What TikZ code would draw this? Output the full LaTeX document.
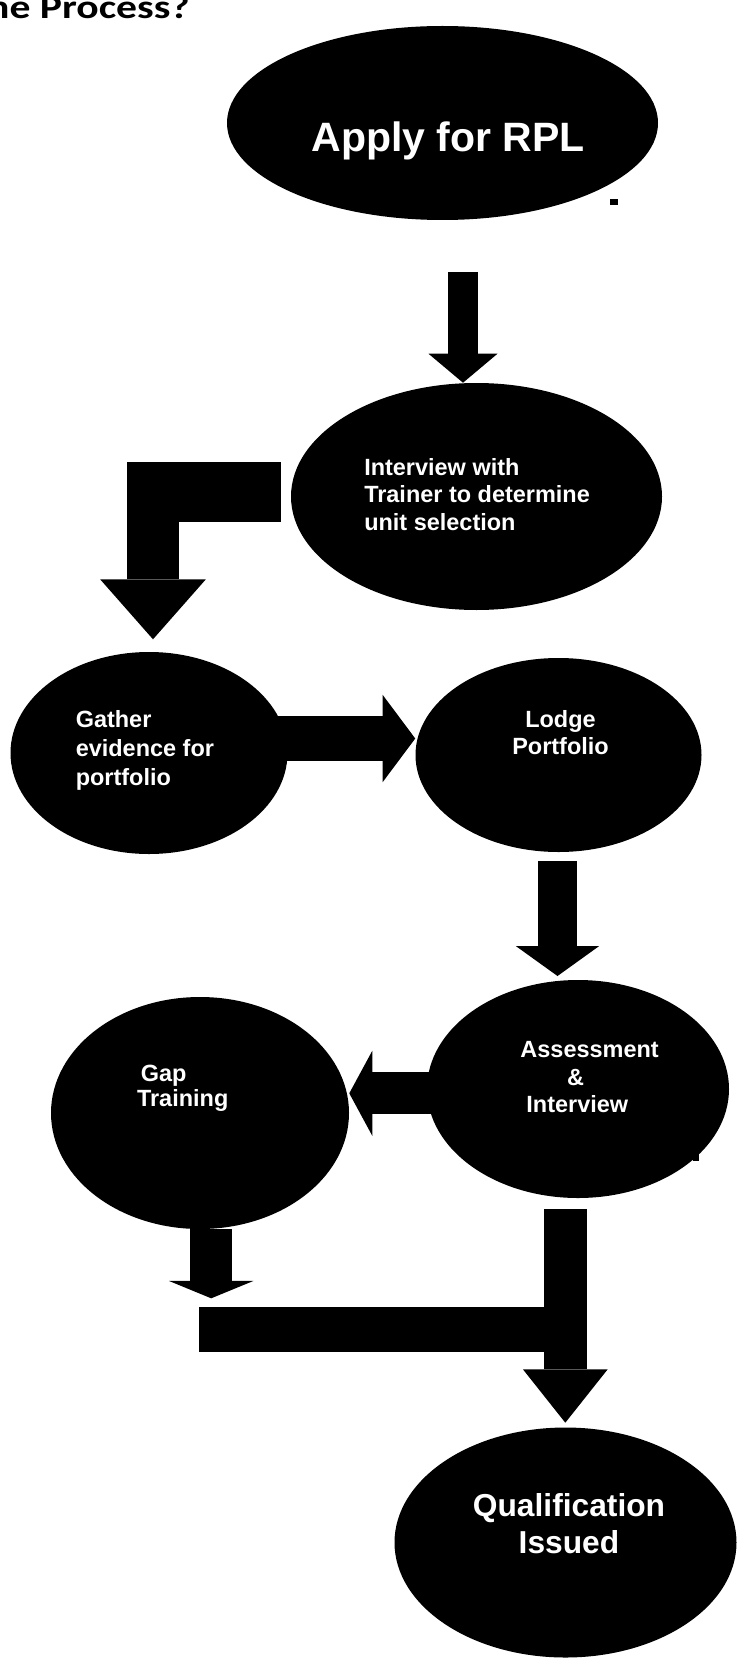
\documentclass[tikz,border=0pt]{standalone}
\usepackage{fontspec}
\usepackage{graphicx}
\setmainfont{Liberation Sans}
\newfontfamily\headfont{Carlito}
\usetikzlibrary{arrows.meta,calc,positioning,shapes.geometric}

\begin{document}
\begin{tikzpicture}[x=0.75pt,y=-0.75pt]
\tikzstyle{stage}=[shape=ellipse,fill=black,draw=none,inner sep=0pt]
\tikzstyle{caption}=[text=white,inner sep=0pt,font=\bfseries\fontsize{17.6}{20.6}\selectfont]
\tikzset{block/.style={draw=black,line width=#1}}

\useasboundingbox (0,0) rectangle (736,1658);

% title, cut at the left edge
\node[anchor=base east,inner sep=0pt,font=\headfont\bfseries\fontsize{25}{30}\selectfont] (title) at (190,19) {\scalebox{1.25}[1]{the Process?}};

\node[stage,minimum width=323.25pt,minimum height=145.5pt] (apply) at (442.5,123) {};
\node[stage,minimum width=278.25pt,minimum height=170.25pt] (interview) at (476.5,496.5) {};
\node[stage,minimum width=207.75pt,minimum height=151.5pt] (gather) at (149,753) {};
\node[stage,minimum width=214.5pt,minimum height=145.5pt] (lodge) at (558.5,755) {};
\node[stage,minimum width=226.5pt,minimum height=163.5pt] (assess) at (578,1089) {};
\node[stage,minimum width=223.5pt,minimum height=174pt] (gap) at (200,1113) {};
\node[stage,minimum width=256.5pt,minimum height=172.5pt] (qual) at (565.5,1542.5) {};

% little marks at the rims
\fill (610,199.3) rectangle (618.3,205);
\fill (693.3,1153.3) rectangle (699.3,1160.7);

\node[caption,anchor=base,font=\bfseries\fontsize{30.75}{36}\selectfont] (applytext) at ($(apply)+(5.8,28.7)$) {Apply for RPL};
\node[caption,anchor=north west,align=left] (interviewtext) at ($(interview)+(-112.5,-38.3)$) {Interview with\\Trainer to determine\\unit selection};
\node[caption,anchor=north west,align=left,font=\bfseries\fontsize{17.6}{21.9}\selectfont] (gathertext) at ($(gather)+(-73.5,-43)$) {Gather\\evidence for\\portfolio};
\node[caption,anchor=north,align=center,font=\bfseries\fontsize{17.6}{20}\selectfont] (lodgetext) at ($(lodge)+(2,-44.5)$) {Lodge\\Portfolio};
\node[caption,anchor=north west,align=left] (assesstext) at ($(assess)+(-57.8,-47.8)$) {Assessment\\\hspace*{34.9pt}\&\\\hspace*{4.5pt}Interview};
\node[caption,anchor=north west,align=left,font=\bfseries\fontsize{17.6}{18.75}\selectfont] (gaptext) at ($(gap)+(-63.2,-48.3)$) {\hspace*{2.9pt}Gap\\Training};
\node[caption,anchor=north,align=center,font=\bfseries\fontsize{23.8}{28}\selectfont] (qualtext) at ($(qual)+(3.5,-49.5)$) {Qualification\\Issued};

% block arrows
\coordinate (a1s) at (463,272);
\coordinate (a2s) at (281,492.3);
\coordinate (a2c) at (126.7,492.3);
\coordinate (a2d) at (153,462.3);
\coordinate (a2e) at (153,639.3);
\coordinate (a3s) at (275,738.5);
\coordinate (a4s) at (557.5,861);
\coordinate (a4e) at (557.5,976);
\coordinate (a5s) at (440,1093.3);
\coordinate (a6s) at (211.2,1229.3);
\coordinate (a6e) at (211.2,1298.3);
\coordinate (a7b) at (199,1329.3);
\coordinate (a7c) at (586.7,1329.3);
\coordinate (a7s) at (565.3,1209.3);
\coordinate (a7e) at (565.3,1422.7);

\draw[block=22.5pt,-{Triangle[length=21.75pt,width=51.75pt,line width=0pt]}] (a1s) -- (a1s |- interview.north);
\draw[block=45pt] (a2s) -- (a2c);
\draw[block=39.45pt,-{Triangle[length=45pt,width=79.3pt,line width=0pt]}] (a2d) -- (a2e);
\draw[block=33.75pt,-{Triangle[length=24.45pt,width=65.5pt,line width=0pt]}] (a3s) -- (a3s -| lodge.west);
\draw[block=29.25pt,-{Triangle[length=22.5pt,width=62.6pt,line width=0pt]}] (a4s) -- (a4e);
\draw[block=31.5pt,-{Triangle[length=17.25pt,width=63.75pt,line width=0pt]}] (a5s) -- (a5s -| gap.east);
\draw[block=31.7pt,-{Triangle[length=13pt,width=63.2pt,line width=0pt]}] (a6s) -- (a6e);
\draw[block=34pt] (a7b) -- (a7c);
\draw[block=32pt,-{Triangle[length=40pt,width=63.5pt,line width=0pt]}] (a7s) -- (a7e);
\end{tikzpicture}
\end{document}
